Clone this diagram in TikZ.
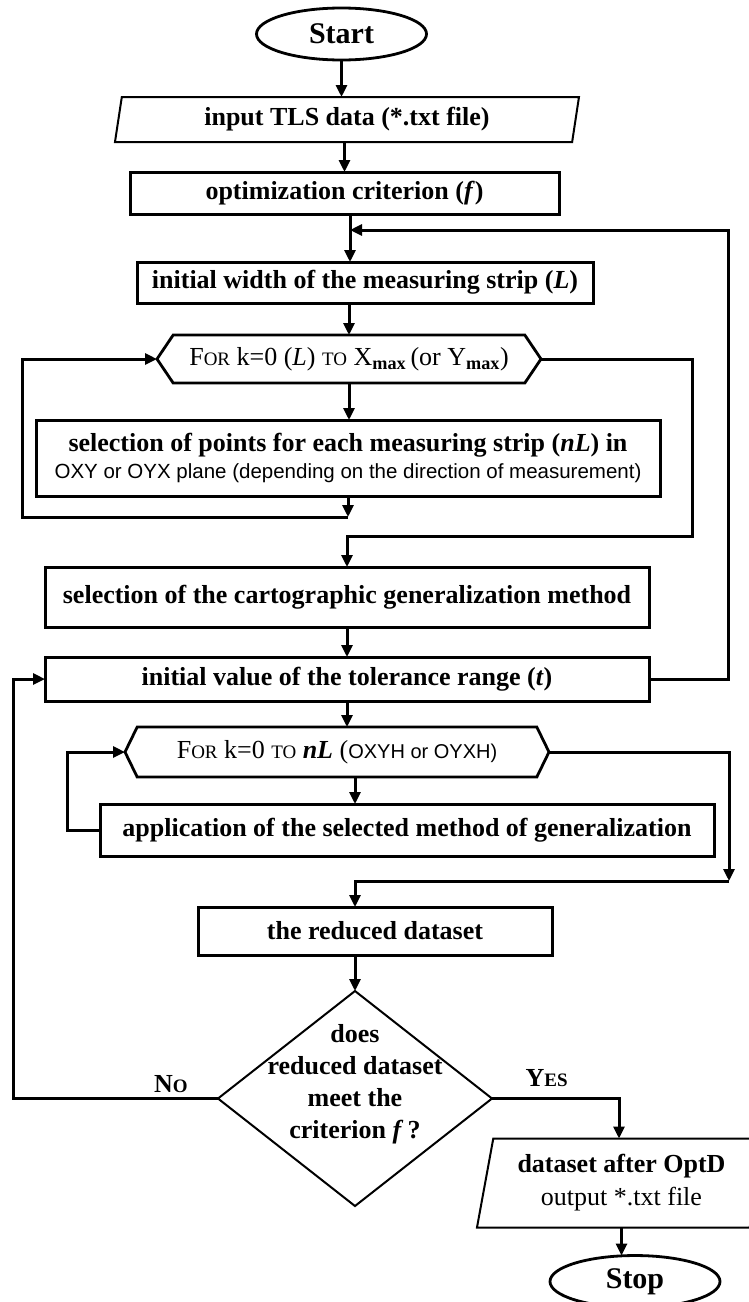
\documentclass[tikz,border=0pt]{standalone}
\usepackage{fontspec}
\setmainfont{Liberation Serif}
\setsansfont{Liberation Sans}
\usetikzlibrary{arrows.meta,positioning,shapes.geometric,shapes.symbols}

\newcommand{\fsc}[1]{{\fontsize{19}{19}\selectfont #1}}

\begin{document}
\begin{tikzpicture}[x=1pt, y=-1pt, >={Triangle[length=12pt,width=11pt]},
    box/.style={draw, line width=3pt, rectangle, inner sep=0pt, outer sep=0pt, align=center, font=\fontsize{26}{30}\selectfont\bfseries},
    term/.style={draw, line width=2.8pt, ellipse, inner sep=0pt, outer sep=0pt, minimum width=170pt, minimum height=52pt, font=\fontsize{30}{34}\selectfont\bfseries},
    io/.style={draw, line width=2pt, trapezium, trapezium left angle=74, trapezium right angle=106, trapezium stretches body, inner sep=0pt, outer sep=0pt, align=center, font=\fontsize{26}{33}\selectfont\bfseries},
    loopbox/.style={draw, line width=2.8pt, signal, signal to=west and east, inner sep=0pt, outer sep=0pt, font=\fontsize{26}{30}\selectfont},
    decision/.style={draw, line width=2pt, diamond, inner sep=0pt, outer sep=0pt, minimum width=274pt, minimum height=215pt},
    conn/.style={line width=3pt},
    yn/.style={font=\fontsize{26}{30}\selectfont\bfseries, inner sep=3pt}
]
    \useasboundingbox (0,0) rectangle (749,1302);

    \node[term] (start) at (341.5,34) {Start};
    \node[io, minimum width=464pt, minimum height=45pt, below=37pt of start, xshift=5.5pt] (input) {input TLS data (*.txt file)};
    \node[box, minimum width=429pt, minimum height=42pt, below=30pt of input, xshift=-2.5pt] (crit) {optimization criterion (\textit{f})};
    \node[box, minimum width=456pt, minimum height=41pt, below=48pt of crit, xshift=20.5pt] (width) {initial width of the measuring strip (\textit{L})};
    \node[loopbox, signal pointer angle=112, minimum width=384pt, minimum height=48pt, below=32pt of width, xshift=-16pt] (forL) {F\fsc{OR} k=0 (\textit{L}) \fsc{TO} X\textsubscript{\textbf{max}}\,(or Y\textsubscript{\textbf{max}})};
    \node[box, minimum width=624pt, minimum height=76pt, below=37pt of forL, xshift=-1pt] (points) {selection of points for each measuring strip (\textit{nL}) in\\[-3pt] {\sffamily\mdseries\fontsize{20.5}{22}\selectfont OXY or OYX plane (depending on the direction of measurement)}};
    \node[box, minimum width=604pt, minimum height=60pt, below=71pt of points, xshift=-1pt] (method) {selection of the cartographic generalization method};
    \node[box, minimum width=604pt, minimum height=44pt, below=30pt of method] (tol) {initial value of the tolerance range (\textit{t})};
    \node[loopbox, signal pointer angle=128, minimum width=424pt, minimum height=50pt, below=26pt of tol, xshift=-10pt] (fornL) {F\fsc{OR} k=0 \fsc{TO} \textbf{\textit{nL}} ({\sffamily\fontsize{20}{22}\selectfont OXYH or OYXH)}};
    \node[box, minimum width=614pt, minimum height=52pt, below=27pt of fornL, xshift=70pt] (apply) {application of the selected method of generalization};
    \node[box, minimum width=354pt, minimum height=48pt, below=51pt of apply, xshift=-32pt] (reduced) {the reduced dataset};
    \node[decision, below=36pt of reduced, xshift=-20pt] (check) {};
    \node[font=\fontsize{26}{32}\selectfont\bfseries, align=center, yshift=14pt] (checktext) at (check) {does\\reduced dataset\\meet the\\criterion \textit{f}\,?};
    \node[io, minimum width=289pt, minimum height=89pt, below=40pt of check.east, xshift=129.5pt] (output) {dataset after OptD\\{\mdseries output *.txt file}};
    \node[term, below=28pt of output, xshift=13.5pt] (stop) {Stop};

    % bend points of the loops
    \coordinate (fbin) at (350,230);
    \coordinate (fbtop) at (728,230);
    \coordinate (loopA) at (348,517);
    \coordinate (loopAl) at (22,360);
    \coordinate (exitA) at (692,536);
    \coordinate (loopB) at (67,752);
    \coordinate (exitB) at (729,881);
    \coordinate (noline) at (13,679);
    \coordinate (yesline) at (619,1098);

    \draw[conn,->] (start.south) -- (start.south |- input.north);
    \draw[conn,->] (input.south -| crit.north) -- (crit.north);
    \draw[conn,->] (crit.south -| fbin) -- (width.north -| fbin);
    \draw[conn,->] (width.south -| forL.north) -- (forL.north);
    \draw[conn,->] (forL.south) -- (forL.south |- points.north);
    \draw[conn,->] (points.south) -- (points.south |- loopA);
    \draw[conn,->] (points.south |- loopA) -| (loopAl |- forL.west) -- (forL.west);
    \draw[conn,->] (forL.east) -| (exitA) -| (method.north);
    \draw[conn,->] (method.south) -- (tol.north);
    \draw[conn,->] (tol.east) -| (fbtop) -- (fbin);
    \draw[conn,->] (tol.south) -- (tol.south |- fornL.north);
    \draw[conn,->] (fornL.south -| check.north) -- (apply.north -| check.north);
    \draw[conn,->] (apply.west) -| (loopB |- fornL.west) -- (fornL.west);
    \draw[conn,->] (fornL.east) -| (exitB);
    \draw[conn,->] (exitB) -| (reduced.north -| check.north);
    \draw[conn,->] (reduced.south -| check.north) -- (check.north);
    \draw[conn,->] (check.west) -- node[yn, above, pos=0.23, yshift=1pt] (nolabel) {N\fsc{O}} (check.west -| noline) -- (noline |- tol.west) -- (tol.west);
    \draw[conn,->] (check.east) -- node[yn, above, pos=0.43, yshift=7pt] (yeslabel) {Y\fsc{ES}} (yesline |- check.east) -- (yesline |- output.north);
    \draw[conn,->] (output.south) -- (output.south |- stop.north);
\end{tikzpicture}
\end{document}
